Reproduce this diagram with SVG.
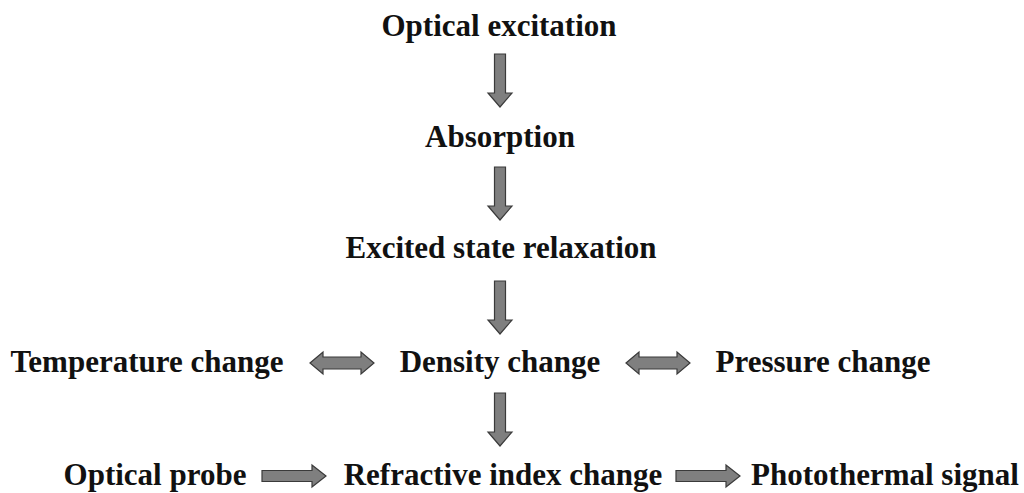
<svg xmlns="http://www.w3.org/2000/svg" width="1024" height="493" viewBox="0 0 1024 493">
<style>
text{font-family:"Liberation Serif","Times New Roman",serif;font-weight:bold;font-size:31px;fill:#111}
.arr{fill:#7f7f7f;stroke:#3a3a3a;stroke-width:1.2;stroke-linejoin:miter}
</style>
<defs>
<path id="down" d="M-5.5,0 H5.5 V39 H12 L0,53 L-12,39 H-5.5 Z"/>
<path id="right" d="M0,-5.5 H50 V-11 L64,0 L50,11 V5.5 H0 Z"/>
<path id="dbl" d="M0,0 L13,-11 V-6 H51 V-11 L64,0 L51,11 V6 H13 V11 Z"/>
</defs>
<rect width="1024" height="493" fill="#fff"/>
<g id="n-optical-excitation"><text x="499" y="36" text-anchor="middle">Optical excitation</text></g>
<g id="n-absorption"><text x="500" y="147" text-anchor="middle">Absorption</text></g>
<g id="n-excited"><text x="501" y="258" text-anchor="middle">Excited state relaxation</text></g>
<g id="n-temperature"><text x="147" y="372" text-anchor="middle">Temperature change</text></g>
<g id="n-density"><text x="500" y="372" text-anchor="middle">Density change</text></g>
<g id="n-pressure"><text x="823" y="372" text-anchor="middle">Pressure change</text></g>
<g id="n-optical-probe"><text x="155" y="485" text-anchor="middle">Optical probe</text></g>
<g id="n-refractive"><text x="503" y="485" text-anchor="middle">Refractive index change</text></g>
<g id="n-photothermal"><text x="885" y="485" text-anchor="middle">Photothermal signal</text></g>
<g id="connectors" class="arr">
<use href="#down" x="500" y="54"/>
<use href="#down" x="500" y="167"/>
<use href="#down" x="500" y="281"/>
<use href="#down" x="500" y="393"/>
<use href="#dbl" x="310" y="363"/>
<use href="#dbl" x="626" y="363"/>
<use href="#right" x="262" y="476"/>
<use href="#right" x="676" y="476"/>
</g>
</svg>
